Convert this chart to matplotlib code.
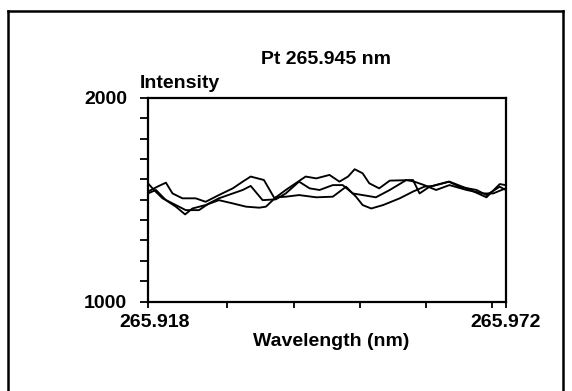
import matplotlib
matplotlib.use("Agg")
import matplotlib.pyplot as plt
import matplotlib.transforms as mtransforms
from matplotlib.lines import Line2D

plt.rcParams['font.family'] = ['Liberation Sans', 'DejaVu Sans']

title = "Pt 265.945 nm"
ylabel = "Intensity"
xlabel = "Wavelength (nm)"
x_min, x_max = 265.918, 265.972
y_min, y_max = 1000, 2000

scan1_wl = [265.9180, 265.9194, 265.9207, 265.9217, 265.9232, 265.9252, 265.9267, 265.9287,
            265.9308, 265.9323, 265.9335, 265.9355, 265.9371, 265.9388, 265.9403, 265.9418,
            265.9434, 265.9454, 265.9469, 265.9482, 265.9492, 265.9504, 265.9514, 265.9529,
            265.9545, 265.9580, 265.9590, 265.9605, 265.9635, 265.9661, 265.9691, 265.9711,
            265.9720]
scan1_int = [1540, 1564, 1584, 1531, 1507, 1507, 1490, 1523,
             1556, 1589, 1614, 1597, 1507, 1548, 1581, 1614,
             1605, 1622, 1589, 1614, 1650, 1630, 1581, 1556,
             1594, 1597, 1531, 1564, 1589, 1556, 1512, 1577,
             1572]

scan2_wl = [265.9180, 265.9189, 265.9202, 265.9222, 265.9237, 265.9257, 265.9272, 265.9287,
            265.9308, 265.9323, 265.9335, 265.9353, 265.9373, 265.9388, 265.9408, 265.9424,
            265.9439, 265.9459, 265.9474, 265.9489, 265.9504, 265.9524, 265.9545, 265.9570,
            265.9582, 265.9597, 265.9615, 265.9635, 265.9661, 265.9686, 265.9701, 265.9720]
scan2_int = [1581, 1548, 1507, 1474, 1449, 1449, 1482, 1507,
             1531, 1548, 1568, 1498, 1502, 1531, 1589, 1556,
             1548, 1572, 1572, 1531, 1523, 1512, 1548, 1597,
             1589, 1572, 1548, 1572, 1548, 1531, 1531, 1556]

scan3_wl = [265.9180, 265.9192, 265.9207, 265.9222, 265.9236, 265.9247, 265.9267, 265.9287,
            265.9308, 265.9328, 265.9348, 265.9358, 265.9373, 265.9388, 265.9408, 265.9434,
            265.9459, 265.9479, 265.9494, 265.9504, 265.9517, 265.9535, 265.9560, 265.9580,
            265.9597, 265.9610, 265.9634, 265.9650, 265.9676, 265.9691, 265.9711, 265.9720]
scan3_int = [1531, 1548, 1498, 1466, 1428, 1457, 1474, 1498,
             1482, 1466, 1461, 1466, 1512, 1515, 1523, 1512,
             1515, 1564, 1515, 1474, 1457, 1474, 1507, 1540,
             1564, 1568, 1589, 1564, 1548, 1523, 1564, 1548]

y_minor = [1100, 1200, 1300, 1400, 1500, 1600, 1700, 1800, 1900]
x_minor = [265.93, 265.94, 265.95, 265.96, 265.97]

W, H = 572, 391
fig = plt.figure(figsize=(W / 100, H / 100), dpi=100)
ax = fig.add_axes([148 / W, 1 - 301.5 / H, (505.7 - 148) / W, (301.5 - 98) / H])

for wl, it in [(scan1_wl, scan1_int), (scan2_wl, scan2_int), (scan3_wl, scan3_int)]:
    ax.plot(wl, it, color='black', lw=1.35, solid_joinstyle='round')

ax.set_xlim(x_min, x_max)
ax.set_ylim(y_min, y_max)
for s in ax.spines.values():
    s.set_linewidth(1.6)

ax.set_yticks([y_min, y_max])
ax.set_yticklabels([str(y_min), str(y_max)], fontsize=14, fontweight='bold')
ax.set_yticks(y_minor, minor=True)
ax.tick_params(axis='y', which='both', direction='out', length=6, width=1.3, pad=9)

ax.set_xticks([x_min, x_max])
ax.set_xticklabels([f"{x_min:.3f}", f"{x_max:.3f}"], fontsize=14, fontweight='bold')
ax.set_xticks(x_minor, minor=True)
ax.tick_params(axis='x', which='both', direction='out', length=4, width=1.3, pad=5)
lbls = ax.get_xticklabels()
lbls[0].set_transform(lbls[0].get_transform() + mtransforms.ScaledTranslation(0.07, 0, fig.dpi_scale_trans))

fig.text(0.57, 1 - 60 / H, title, ha='center', va='center', fontsize=14, fontweight='bold')
fig.text(140 / W, 1 - 83 / H, ylabel, ha='left', va='center', fontsize=14, fontweight='bold')
fig.text(331 / W, 1 - 342 / H, xlabel, ha='center', va='center', fontsize=14, fontweight='bold')

# outer frame
fx0, fx1, fy = 8 / W, 563 / W, 1 - 11 / H
for xs, ys in [([fx0, fx1], [fy, fy]), ([fx0, fx0], [fy, 0]), ([fx1, fx1], [fy, 0])]:
    fig.add_artist(Line2D(xs, ys, transform=fig.transFigure, color='black', lw=1.8))

fig.savefig("out.png", dpi=100)
